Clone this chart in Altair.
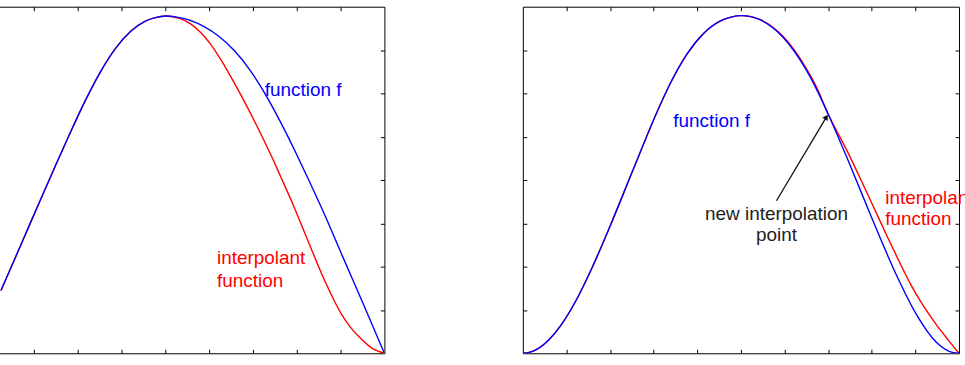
import altair as alt
import pandas as pd

# ---------------- data (x in tick units 0..10, y in tick units 0..8) ----------------
# Left panel: shared rising part (f and interpolant coincide)
L_common_x = [1.25, 1.705, 2.159, 2.5, 2.841, 3.182, 3.523, 3.864, 4.205, 4.545, 4.773, 5.0]
L_common_y = [1.448, 2.506, 3.563, 4.345, 5.115, 5.848, 6.503, 7.039, 7.428, 7.669, 7.747, 7.784]
# Left panel: function f, falling part
L_f_x = [5.295, 5.568, 5.886, 6.205, 6.568, 6.932, 7.227, 7.5, 7.773, 8.0, 8.227, 8.636,
         9.045, 9.523, 10.0]
L_f_y = [7.754, 7.683, 7.538, 7.329, 6.993, 6.538, 6.074, 5.584, 5.053, 4.582, 4.099, 3.198,
         2.237, 1.126, 0.0]
# Left panel: interpolant, falling part
L_i_x = [5.341, 5.568, 5.795, 6.023, 6.25, 6.477, 6.705, 6.955, 7.205, 7.432, 7.636, 7.909,
         8.273, 8.636, 8.841, 9.023, 9.227, 9.432, 9.705, 10.0]
L_i_y = [7.724, 7.609, 7.414, 7.149, 6.805, 6.414, 6.0, 5.517, 5.011, 4.529, 4.069, 3.448,
         2.552, 1.678, 1.241, 0.897, 0.598, 0.368, 0.126, 0.0]

# Right panel: shared rising part
R_common_x = [0.0, 0.251, 0.594, 0.868, 1.210, 1.553, 2.009, 2.511, 3.037, 3.379, 3.767,
              4.132, 4.521, 4.772, 5.023]
R_common_y = [0.0, 0.057, 0.308, 0.639, 1.200, 1.899, 2.957, 4.195, 5.478, 6.228, 6.913,
              7.372, 7.667, 7.759, 7.793]
# Right panel: function f, falling part
R_f_x = [5.434, 5.959, 6.484, 6.735, 6.986, 7.489, 7.991, 8.562, 9.018, 9.475, 9.772, 10.0]
R_f_y = [7.701, 7.303, 6.563, 6.092, 5.552, 4.375, 3.147, 1.811, 0.903, 0.260, 0.046, 0.0]
# Right panel: interpolant, falling part
R_i_x = [5.434, 5.959, 6.484, 6.735, 6.986, 7.443, 7.763, 8.082, 8.356, 8.619, 8.881, 9.155,
         9.475, 9.749, 10.0]
R_i_y = [7.706, 7.322, 6.598, 6.138, 5.552, 4.655, 3.977, 3.287, 2.690, 2.138, 1.609, 1.138,
         0.667, 0.310, 0.0]

# Tick values
X_TICKS = [1, 2, 3, 4, 5, 6, 7, 8, 9]
Y_TICKS = [1, 2, 3, 4, 5, 6, 7]

# Labels
L_lab_text = ["function f", "interpolant", "function"]
L_lab_x = [7.27, 6.18, 6.18]
L_lab_y = [5.93, 2.06, 1.54]
L_lab_col = ["#0000ff", "#ff0000", "#ff0000"]

R_lab_text = ["function f", "interpolant", "function"]
R_lab_x = [3.45, 8.31, 8.31]
R_lab_y = [5.22, 3.45, 2.97]
R_lab_col = ["#0000ff", "#ff0000", "#ff0000"]

R_note_text = ["new interpolation", "point"]
R_note_x = [5.815, 5.815]
R_note_y = [3.08, 2.60]

# Arrow (start -> head)
ARROW_X = [5.815, 6.959]
ARROW_Y = [3.52, 5.451]
HEAD_X = [6.959]
HEAD_Y = [5.451]

H = 348
XS = alt.Scale(domain=[0, 10], nice=False, zero=False)
YS = alt.Scale(domain=[0, 8], nice=False, zero=False)
FONT = "Liberation Sans"


def ax(orient, off, vals):
    return alt.Axis(orient=orient, offset=off, values=vals, labels=False, domain=False,
                    grid=False, ticks=True, tickSize=4, tickColor="black", tickWidth=1,
                    title=None)


def panel(cx, cy, fx, fy, ix, iy, lab, width, note=None, arrow=False):
    f_df = pd.DataFrame({"x": cx + fx, "y": cy + fy})
    i_df = pd.DataFrame({"x": cx + ix, "y": cy + iy})
    red = alt.Chart(i_df).mark_line(color="#ff0000", strokeWidth=1.4, clip=True,
                                    interpolate="monotone").encode(
        x=alt.X("x:Q", scale=XS, axis=ax("bottom", -H, X_TICKS)),
        y=alt.Y("y:Q", scale=YS, axis=ax("left", -width, Y_TICKS)),
    )
    blue = alt.Chart(f_df).mark_line(color="#0000ff", strokeWidth=1.4, clip=True,
                                     interpolate="monotone").encode(
        x=alt.X("x:Q", scale=XS, axis=ax("top", -H, X_TICKS)),
        y=alt.Y("y:Q", scale=YS, axis=ax("right", -width, Y_TICKS)),
    )
    t_df = pd.DataFrame({"t": lab[0], "x": lab[1], "y": lab[2], "c": lab[3]})
    txt = alt.Chart(t_df).mark_text(align="left", baseline="alphabetic", font=FONT,
                                    fontSize=19).encode(
        x=alt.X("x:Q", scale=XS, axis=None),
        y=alt.Y("y:Q", scale=YS, axis=None),
        text="t:N",
        color=alt.Color("c:N", scale=None),
    )
    layers = [red, blue, txt]
    if note is not None:
        n_df = pd.DataFrame({"t": note[0], "x": note[1], "y": note[2]})
        layers.append(alt.Chart(n_df).mark_text(align="center", baseline="alphabetic",
                                                font=FONT, fontSize=19,
                                                color="#222222").encode(
            x=alt.X("x:Q", scale=XS, axis=None),
            y=alt.Y("y:Q", scale=YS, axis=None),
            text="t:N",
        ))
    if arrow:
        a_df = pd.DataFrame({"x": [ARROW_X[0]], "y": [ARROW_Y[0]],
                             "x2": [ARROW_X[1]], "y2": [ARROW_Y[1]]})
        layers.append(alt.Chart(a_df).mark_rule(color="#111111", strokeWidth=1.3).encode(
            x=alt.X("x:Q", scale=XS, axis=None),
            y=alt.Y("y:Q", scale=YS, axis=None),
            x2="x2:Q", y2="y2:Q",
        ))
        h_df = pd.DataFrame({"x": HEAD_X, "y": HEAD_Y})
        layers.append(alt.Chart(h_df).mark_point(shape="triangle-up", filled=True,
                                                 angle=31, size=40, color="#111111",
                                                 opacity=1).encode(
            x=alt.X("x:Q", scale=XS, axis=None),
            y=alt.Y("y:Q", scale=YS, axis=None),
        ))
    return alt.layer(*layers).resolve_axis(x="independent", y="independent").properties(
        width=width, height=H)


left = panel(L_common_x, L_common_y, L_f_x, L_f_y, L_i_x, L_i_y,
             (L_lab_text, L_lab_x, L_lab_y, L_lab_col), 440)
right = panel(R_common_x, R_common_y, R_f_x, R_f_y, R_i_x, R_i_y,
              (R_lab_text, R_lab_x, R_lab_y, R_lab_col), 438,
              note=(R_note_text, R_note_x, R_note_y), arrow=True)

chart = alt.hconcat(left, right, spacing=137).properties(
    padding={"left": -55, "top": 5, "right": -10, "bottom": 0},
    background="white",
).configure_view(stroke="black", strokeWidth=1)

chart.save("out.html", embed_options={"renderer": "svg", "actions": False})
